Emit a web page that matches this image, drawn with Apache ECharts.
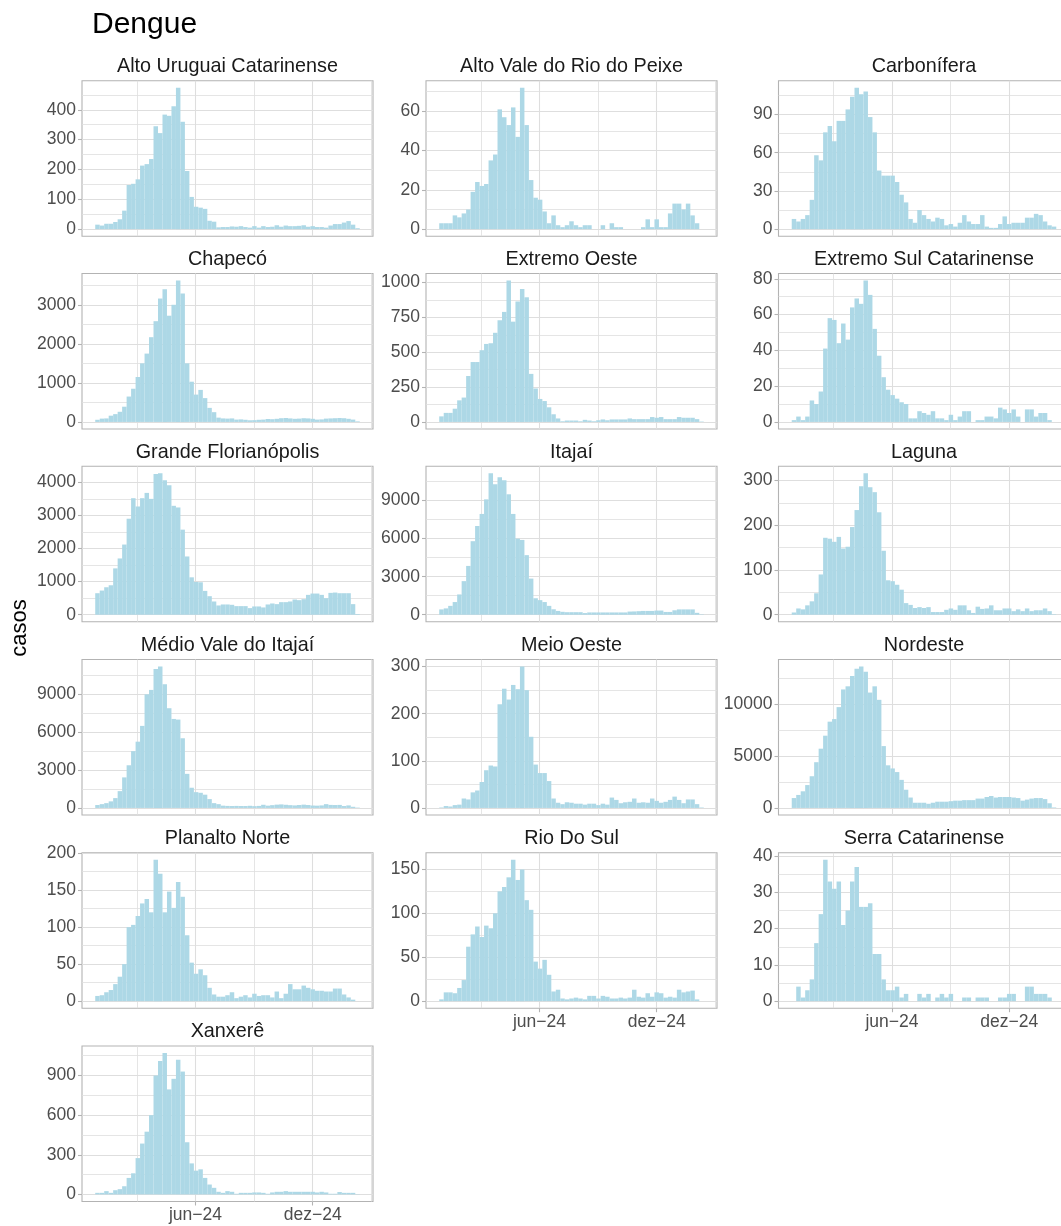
<!DOCTYPE html>
<html><head><meta charset="utf-8">
<script src="https://cdn.jsdelivr.net/npm/echarts@6/dist/echarts.min.js"></script>
<style>html,body{margin:0;padding:0;background:#fff}#c{width:1061px;height:1226px}</style>
</head><body><div id="c"></div>
<script>
// ---- categories (epidemiological week start dates) ----
const weeks = ['2023-12-31','2024-01-07','2024-01-14','2024-01-21','2024-01-28','2024-02-04','2024-02-11','2024-02-18','2024-02-25',
'2024-03-03','2024-03-10','2024-03-17','2024-03-24','2024-03-31','2024-04-07','2024-04-14','2024-04-21','2024-04-28',
'2024-05-05','2024-05-12','2024-05-19','2024-05-26','2024-06-02','2024-06-09','2024-06-16','2024-06-23','2024-06-30',
'2024-07-07','2024-07-14','2024-07-21','2024-07-28','2024-08-04','2024-08-11','2024-08-18','2024-08-25',
'2024-09-01','2024-09-08','2024-09-15','2024-09-22','2024-09-29','2024-10-06','2024-10-13','2024-10-20','2024-10-27',
'2024-11-03','2024-11-10','2024-11-17','2024-11-24','2024-12-01','2024-12-08','2024-12-15','2024-12-22','2024-12-29',
'2025-01-05','2025-01-12','2025-01-19','2025-01-26','2025-02-02','2025-02-09'];

const regionNames = ['Alto Uruguai Catarinense','Alto Vale do Rio do Peixe','Carbonífera','Chapecó','Extremo Oeste',
'Extremo Sul Catarinense','Grande Florianópolis','Itajaí','Laguna','Médio Vale do Itajaí','Meio Oeste','Nordeste',
'Planalto Norte','Rio Do Sul','Serra Catarinense','Xanxerê'];

// ---- series values (weekly cases) ----
const altoUruguai = [15,12,18,18,24,33,62,148,152,167,213,218,235,345,322,384,380,412,474,360,195,108,75,72,68,28,25,6,7,7,9,8,10,7,5,10,5,10,7,8,13,8,12,10,10,11,13,8,10,7,7,5,12,17,17,22,27,15,3];
const altoVale = [3,3,3,7,6,8,10,19,24,22,23,35,38,61,57,53,62,47,72,53,25,16,15,9,3,7,2,1,2,4,2,1,2,2,0,0,2,0,3,1,1,0,0,0,0,1,5,1,5,1,1,8,13,13,10,13,7,3,0];
const carbonifera = [8,6,8,11,23,58,54,76,81,69,85,85,94,104,111,106,108,88,76,46,42,42,42,37,27,21,8,5,15,11,8,6,9,8,3,4,2,5,11,6,4,4,11,2,1,1,4,10,4,5,5,5,9,9,12,11,6,3,2];
const chapeco = [55,85,90,160,200,260,390,650,850,1150,1500,1750,2170,2580,3160,3400,2720,3000,3620,3290,1500,1030,700,820,610,360,250,110,90,85,90,60,65,55,42,45,55,60,75,70,80,95,100,90,80,85,95,90,80,60,65,85,90,95,100,95,80,60,15];
const extremoOeste = [40,65,65,95,155,175,330,430,430,515,560,565,640,730,790,1015,720,865,955,895,345,240,165,150,105,55,25,5,10,10,10,5,15,10,5,12,18,12,18,18,18,18,25,20,20,20,20,35,30,35,20,20,20,35,30,30,30,20,3];
const extremoSul = [1,3,1,3,12,10,17,41,58,57,44,55,46,64,69,66,79,71,52,37,25,18,15,13,11,10,2,2,6,5,4,6,2,2,1,4,1,3,6,6,0,1,1,3,3,2,8,7,5,7,3,0,7,7,3,5,5,1,0];
const grandeFloripa = [650,730,830,890,1400,1700,2120,2900,3520,3270,3520,3680,3500,4250,4270,4060,3910,3290,3240,2570,1760,1130,990,980,720,560,400,280,310,310,300,260,260,260,200,250,250,220,310,340,320,380,380,400,460,440,470,600,640,640,600,500,660,670,650,650,650,320,20];
const itajai = [420,500,700,1000,1600,2650,3850,5800,7000,7950,9100,11150,10300,10850,10600,9500,7950,6000,5900,4700,2850,1300,1150,1000,700,430,300,230,200,200,200,200,130,180,180,180,180,180,180,180,180,180,250,260,280,300,300,300,330,330,220,220,350,420,420,420,420,150,30];
const laguna = [5,14,12,21,30,48,90,172,170,163,174,148,152,196,234,287,316,285,274,229,143,77,75,67,56,26,22,15,17,15,17,6,6,6,11,14,11,21,21,10,4,18,13,14,21,10,10,14,14,8,12,8,14,8,10,10,14,8,1];
const medioVale = [230,300,380,520,780,1330,2420,3380,4500,5250,6500,9000,9350,11000,11200,9800,7900,7050,7000,5520,2700,1600,1250,1200,1050,700,380,300,180,160,150,160,150,150,170,140,160,250,180,220,260,280,250,220,200,230,260,230,190,180,200,300,240,230,240,150,200,90,30];
const meioOeste = [1,4,3,6,7,20,18,33,37,55,80,90,88,220,253,230,261,252,300,250,151,92,74,74,57,20,11,8,12,11,9,9,7,9,9,6,9,7,22,17,10,12,13,20,11,12,11,20,15,11,13,17,24,17,10,18,18,8,1];
const nordeste = [950,1250,1600,2200,3050,4400,5700,6950,8300,8550,9700,11400,11700,12700,13400,13600,13100,11100,11700,10400,5950,4100,3800,3450,2700,1750,1000,500,500,500,400,500,600,600,600,650,700,700,750,750,750,900,900,1050,1150,1000,1050,1050,1050,1000,950,700,800,900,950,950,850,450,50];
const planaltoNorte = [7,8,12,15,23,33,50,100,103,115,132,138,120,191,172,120,148,126,161,141,89,52,37,43,35,18,9,6,6,8,12,4,6,8,5,10,7,8,8,5,13,4,10,23,16,16,21,18,16,14,14,13,13,17,17,9,5,2,0];
const rioDoSul = [2,10,10,9,15,24,62,76,85,73,86,83,100,125,130,141,161,138,150,115,104,45,37,47,30,11,13,3,2,3,4,3,2,6,6,3,6,5,3,3,4,3,4,13,5,4,9,5,10,9,4,5,4,13,10,11,12,2,0];
const serra = [0,4,1,3,6,16,24,39,33,31,33,21,25,33,37,26,26,27,13,13,6,3,3,4,1,2,0,0,2,1,2,0,1,2,1,2,0,0,1,1,0,1,1,1,0,0,1,1,2,2,0,0,4,4,2,2,2,1,0];
const xanxere = [12,12,25,12,32,40,62,125,160,275,385,475,600,900,1010,1070,795,875,1020,930,395,235,180,190,125,75,50,20,12,25,20,5,12,12,12,15,15,12,5,15,20,20,25,20,20,20,20,20,20,15,20,15,5,5,18,12,12,12,2];

// ---- tick labels ----
const yTicksList = [
  [0,100,200,300,400], [0,20,40,60], [0,30,60,90], [0,1000,2000,3000], [0,250,500,750,1000],
  [0,20,40,60,80], [0,1000,2000,3000,4000], [0,3000,6000,9000], [0,100,200,300], [0,3000,6000,9000],
  [0,100,200,300], [0,5000,10000], [0,50,100,150,200], [0,50,100,150], [0,10,20,30,40], [0,300,600,900]
];
const xTickDates = ['2024-06-01','2024-12-01'];
const xTickLabels = ['jun\u221224','dez\u221224'];
const xBreakDatesAll = ['2023-12-01','2024-06-01','2024-12-01','2025-06-01'];

const seriesValues = [altoUruguai,altoVale,carbonifera,chapeco,extremoOeste,extremoSul,grandeFloripa,itajai,
  laguna,medioVale,meioOeste,nordeste,planaltoNorte,rioDoSul,serra,xanxere];

// ---- layout ----
const FONT = '"Liberation Sans", Arial, Helvetica, sans-serif';
const colLeft = [82, 426, 778.5];
const rowTop = [80.7, 273.5, 466.3, 659.5, 852.7, 1046];
const PW = 291, PH = 155.5;
const bottomPanels = [13, 14, 15];
const TICK_FS = 17.5, STRIP_FS = 19.8;
const DAY = 86400000;
const T0 = Date.parse('2024-01-01T00:00:00Z');
const toD = s => (Date.parse(s + 'T00:00:00Z') - T0) / DAY;   // days since 2024-01-01
const tw = weeks.map(toD);
const span = tw[tw.length - 1] - tw[0] + 7;
const xMin = tw[0] - 3.5 - 0.05 * span;
const xMax = tw[tw.length - 1] + 3.5 + 0.05 * span;
const xTicks = xTickDates.map(toD);
const xBreakAll = xBreakDatesAll.map(toD);
const xMajor = xBreakAll.filter(v => v >= xMin && v <= xMax);
const xMinor = [];
for (let i = 0; i < xBreakAll.length - 1; i++) {
  const m = (xBreakAll[i] + xBreakAll[i + 1]) / 2;
  if (m >= xMin && m <= xMax) xMinor.push(m);
}
const GRID_C = '#dedede';
const TICK_C = '#b3b3b3';

const option = {
  animation: false,
  backgroundColor: '#ffffff',
  textStyle: { fontFamily: FONT },
  grid: [], xAxis: [], yAxis: [], series: [], graphic: []
};

seriesValues.forEach((vals, i) => {
  const r = Math.floor(i / 3), c = i % 3;
  const ticks = yTicksList[i];
  const M = Math.max.apply(null, vals);
  const yMin = -0.05 * M, yMax = 1.05 * M;
  const isBottom = bottomPanels.indexOf(i) >= 0;
  option.grid.push({
    left: colLeft[c], top: rowTop[r], width: PW, height: PH,
    show: true, borderColor: TICK_C, borderWidth: 1.1, backgroundColor: 'rgba(0,0,0,0)',
    containLabel: false, outerBoundsMode: 'none'
  });
  option.xAxis.push({
    type: 'value', gridIndex: i, min: xMin, max: xMax, position: 'bottom',
    axisLine: { show: false, onZero: false }, splitLine: { show: false },
    axisTick: { show: isBottom, inside: false, customValues: xTicks, length: 4, lineStyle: { color: TICK_C, width: 1.1 } },
    axisLabel: {
      show: isBottom, customValues: xTicks, fontSize: TICK_FS, color: '#4d4d4d', fontFamily: FONT, margin: 5,
      formatter: v => { let k = -1; xTicks.forEach((x, j) => { if (Math.abs(x - v) < 0.5) k = j; }); return k >= 0 ? xTickLabels[k] : ''; }
    }
  });
  option.yAxis.push({
    type: 'value', gridIndex: i, min: yMin, max: yMax, position: 'left',
    axisLine: { show: false, onZero: false }, splitLine: { show: false },
    axisTick: { show: true, inside: false, customValues: ticks, length: 4, lineStyle: { color: TICK_C, width: 1.1 } },
    axisLabel: { customValues: ticks, fontSize: TICK_FS, color: '#4d4d4d', fontFamily: FONT, margin: 6,
      formatter: v => String(Math.round(v)) }
  });
  // grid lines (major at breaks, minor at midpoints), on the lower layer beneath the bars
  const step = ticks[1] - ticks[0];
  const ml = [];
  ticks.forEach(v => ml.push({ yAxis: v, lineStyle: { color: GRID_C, width: 1.1, type: 'solid' } }));
  for (let v = step / 2; v <= yMax; v += step) ml.push({ yAxis: v, lineStyle: { color: GRID_C, width: 0.8, type: 'solid' } });
  xMajor.forEach(v => ml.push({ xAxis: v, lineStyle: { color: GRID_C, width: 1.1, type: 'solid' } }));
  xMinor.forEach(v => ml.push({ xAxis: v, lineStyle: { color: GRID_C, width: 0.8, type: 'solid' } }));
  option.series.push({
    type: 'line', xAxisIndex: i, yAxisIndex: i, data: [], z: 0, zlevel: 0, silent: true,
    markLine: { z: 0, zlevel: 0, silent: true, symbol: ['none', 'none'], animation: false, label: { show: false },
      data: ml }
  });
  option.series.push({
    type: 'bar', xAxisIndex: i, yAxisIndex: i, z: 3, zlevel: 1, silent: true,
    barWidth: '100%', itemStyle: { color: '#ADD8E6' },
    data: tw.map((t, k) => [t, vals[k]])
  });
  option.graphic.push({
    type: 'text', x: colLeft[c] + PW / 2, y: rowTop[r] - 14, silent: true,
    style: { text: regionNames[i], fontSize: STRIP_FS, fontFamily: FONT, fill: '#1a1a1a',
      align: 'center', verticalAlign: 'middle' }
  });
});

option.graphic.push({
  type: 'text', x: 92, y: 25, silent: true,
  style: { text: 'Dengue', fontSize: 30, fontFamily: FONT, fill: '#000000',
    align: 'left', verticalAlign: 'middle' }
});
option.graphic.push({
  type: 'text', x: 20, y: 628, rotation: Math.PI / 2, silent: true,
  style: { text: 'casos', fontSize: 22, fontFamily: FONT, fill: '#000000',
    align: 'center', verticalAlign: 'middle' }
});

const chart = echarts.init(document.getElementById('c'), null, { renderer: 'canvas', width: 1061, height: 1226 });
chart.setOption(option);
</script>
</body></html>
